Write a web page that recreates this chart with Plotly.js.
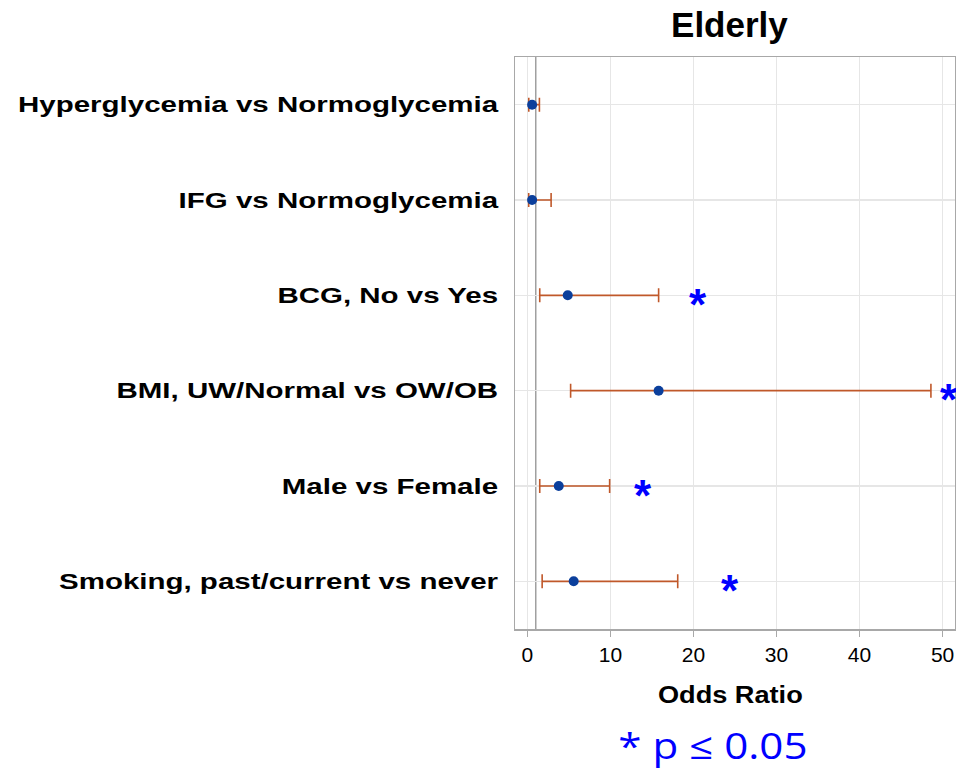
<!DOCTYPE html>
<html>
<head>
<meta charset="utf-8">
<script src="https://cdn.plot.ly/plotly-3.0.1.min.js"></script>
<style>html,body{margin:0;padding:0;background:#fff;}#chart{width:956px;height:772px;}</style>
</head>
<body>
<div id="chart"></div>
<script>
const categories = [
  "Hyperglycemia vs Normoglycemia",
  "IFG vs Normoglycemia",
  "BCG, No vs Yes",
  "BMI, UW/Normal vs OW/OB",
  "Male vs Female",
  "Smoking, past/current vs never"
];
const oddsRatio = [0.56, 0.56, 4.85, 15.8, 3.77, 5.57];
const ciLower   = [0.16, 0.15, 1.48, 5.2, 1.48, 1.77];
const ciUpper   = [1.44, 2.85, 15.8, 48.6, 9.9, 18.1];
const significant = [false, false, true, true, true, true];
const starX = [null, null, 20.6, 50.8, 13.9, 24.4];
const xTicks = [0, 10, 20, 30, 40, 50];

const trace = {
  type: "scatter",
  mode: "markers",
  x: oddsRatio,
  y: categories,
  marker: {color: "#0b3f9c", size: 10, line: {color: "#0b3f9c", width: 0}},
  error_x: {
    type: "data",
    symmetric: false,
    array: ciUpper.map((u, i) => u - oddsRatio[i]),
    arrayminus: ciLower.map((l, i) => oddsRatio[i] - l),
    color: "#c0582a",
    thickness: 1.6,
    width: 7
  },
  hoverinfo: "skip",
  showlegend: false
};

const annotations = [];
categories.forEach((c, i) => {
  if (significant[i]) {
    annotations.push({
      x: starX[i], y: c, xref: "x", yref: "y",
      text: "*", showarrow: false,
      font: {family: "Liberation Sans, Arial, sans-serif", size: 44, color: "#0000ff", weight: "bold"},
      yshift: -9
    });
  }
});
annotations.push({
  x: 0.489, y: -0.116, xref: "paper", yref: "paper",
  text: "<b>Odds Ratio</b>", showarrow: false,
  font: {family: "Liberation Sans, Arial, sans-serif", size: 23, color: "#000"},
  xanchor: "center", yanchor: "middle"
});
annotations.push({
  x: 0.451, y: -0.204, xref: "paper", yref: "paper",
  text: "* p ≤ 0.05", showarrow: false,
  font: {family: "Open Sans, Noto Sans, sans-serif", size: 36, color: "#0000ff"},
  xanchor: "center", yanchor: "middle"
});

const layout = {
  width: 956, height: 772,
  margin: {l: 515, r: 1, t: 57, b: 143},
  paper_bgcolor: "#fff", plot_bgcolor: "#fff",
  title: {
    text: "<b>Elderly</b>",
    font: {family: "Liberation Sans, Arial, sans-serif", size: 35, color: "#000"},
    x: 0.763, xanchor: "center", y: 0.968, yanchor: "middle"
  },
  xaxis: {
    range: [-1.5, 51.5],
    tickvals: xTicks,
    ticktext: xTicks.map(String),
    showgrid: true, gridcolor: "#e6e6e6", gridwidth: 1.5,
    zeroline: false,
    showline: true, linecolor: "#a8a8a8", linewidth: 1.5, mirror: true,
    ticks: "outside", ticklen: 6, tickcolor: "#a8a8a8", tickwidth: 1.5,
    tickfont: {family: "Liberation Sans, Arial, sans-serif", size: 21, color: "#000"}
  },
  yaxis: {
    type: "category",
    categoryorder: "array",
    categoryarray: categories,
    range: [5.5, -0.5],
    showgrid: true, gridcolor: "#e6e6e6", gridwidth: 1.5,
    zeroline: false,
    showline: true, linecolor: "#a8a8a8", linewidth: 1.5, mirror: true,
    ticks: "", ticklabelstandoff: 11,
    tickfont: {family: "Liberation Sans, Arial, sans-serif", size: 22, color: "#000", weight: "bold"}
  },
  shapes: [{
    type: "line", xref: "x", yref: "paper", x0: 1, x1: 1, y0: 0, y1: 1,
    line: {color: "#a0a0a0", width: 1.5}, layer: "below"
  }],
  annotations: annotations
};

function stretch(el, ratio) {
  const len = el.getComputedTextLength();
  el.setAttribute("textLength", (len * ratio).toFixed(1));
  el.setAttribute("lengthAdjust", "spacingAndGlyphs");
}

Plotly.newPlot("chart", [trace], layout, {displayModeBar: false, staticPlot: true}).then(gd => {
  gd.querySelectorAll(".ytick text").forEach(t => stretch(t, 1.34));
  const ann = gd.querySelectorAll(".annotation-text");
  const n = ann.length;
  if (n >= 2) {
    stretch(ann[n - 2], 1.18);
    stretch(ann[n - 1], 1.17);
  }
});
</script>
</body>
</html>
